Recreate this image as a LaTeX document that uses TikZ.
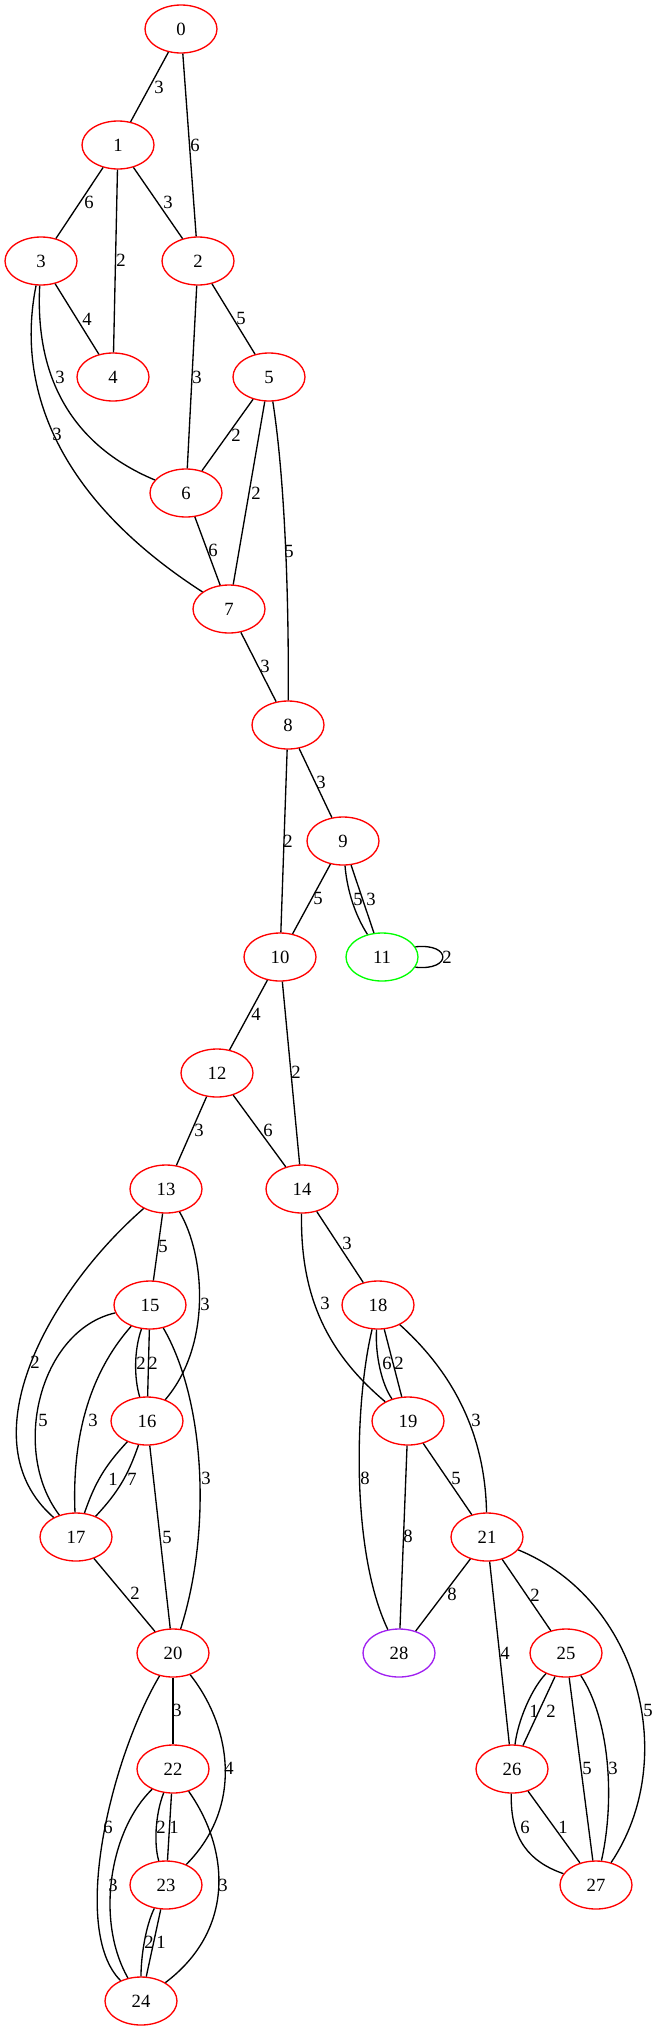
\documentclass[tikz,border=0pt]{standalone}
\usepackage{fontspec}
\setmainfont{Liberation Serif}
\usetikzlibrary{shapes.geometric,positioning}
\tikzstyle{vertex} = [ellipse, draw=vred, line width=1pt, minimum width=54pt, minimum height=36pt, inner sep=0pt, font=\fontsize{14}{16}\selectfont]
\tikzstyle{link} = [draw=black, line width=1pt]
\tikzstyle{wt} = [inner sep=0pt, font=\fontsize{14}{16}\selectfont]
\definecolor{vred}{HTML}{FF0000}
\definecolor{vgreen}{HTML}{00FF00}
\definecolor{vpurple}{HTML}{A020F0}
\begin{document}
\begin{tikzpicture}[x=0.75pt, y=-0.75pt]
  \useasboundingbox (0,0) rectangle (660,2031);
  \node[vertex] (n0) at (181,29) {0};
  \node[vertex] (n1) at (118,145) {1};
  \node[vertex] (n2) at (198,261) {2};
  \node[vertex] (n3) at (41,261) {3};
  \node[vertex] (n4) at (113,377) {4};
  \node[vertex] (n5) at (269,377) {5};
  \node[vertex] (n6) at (186,493) {6};
  \node[vertex] (n7) at (229,609) {7};
  \node[vertex] (n8) at (288,725) {8};
  \node[vertex] (n9) at (343,841) {9};
  \node[vertex] (n10) at (280,957) {10};
  \node[vertex, draw=vgreen] (n11) at (382,957) {11};
  \node[vertex] (n12) at (217,1073) {12};
  \node[vertex] (n13) at (166,1189) {13};
  \node[vertex] (n14) at (302,1189) {14};
  \node[vertex] (n15) at (150,1305) {15};
  \node[vertex] (n16) at (147,1421) {16};
  \node[vertex] (n17) at (76,1537) {17};
  \node[vertex] (n18) at (378,1305) {18};
  \node[vertex] (n19) at (408,1421) {19};
  \node[vertex] (n20) at (173,1653) {20};
  \node[vertex] (n21) at (487,1537) {21};
  \node[vertex] (n22) at (173,1769) {22};
  \node[vertex] (n23) at (166,1885) {23};
  \node[vertex] (n24) at (141,2001) {24};
  \node[vertex] (n25) at (566,1653) {25};
  \node[vertex] (n26) at (512,1769) {26};
  \node[vertex] (n27) at (596,1885) {27};
  \node[vertex, draw=vpurple] (n28) at (399,1653) {28};

  \draw[link] (n0) -- (n1) node[wt] at (159,87) {3};
  \draw[link] (n0) -- (n2) node[wt] at (195,145) {6};
  \draw[link] (n1) -- (n3) node[wt] at (89,202) {6};
  \draw[link] (n1) -- (n4) node[wt] at (121,260) {2};
  \draw[link] (n1) -- (n2) node[wt] at (168,202) {3};
  \draw[link] (n3) -- (n4) node[wt] at (87,319) {4};
  \draw[link] (n3) .. controls (34,395) and (88,452) .. (n6) node[wt] at (60,377) {3};
  \draw[link] (n3) .. controls (15,390) and (60,500) .. (n7) node[wt] at (57,434) {3};
  \draw[link] (n2) -- (n6) node[wt] at (197,377) {3};
  \draw[link] (n2) -- (n5) node[wt] at (241,318) {5};
  \draw[link] (n5) -- (n6) node[wt] at (236,435) {2};
  \draw[link] (n5) -- (n7) node[wt] at (256,493) {2};
  \draw[link] (n5) .. controls (285,480) and (289,600) .. (n8) node[wt] at (289,551) {5};
  \draw[link] (n6) -- (n7) node[wt] at (213,550) {6};
  \draw[link] (n7) -- (n8) node[wt] at (265,666) {3};
  \draw[link] (n8) -- (n10) node[wt] at (288,841) {2};
  \draw[link] (n8) -- (n9) node[wt] at (321,782) {3};
  \draw[link] (n9) -- (n10) node[wt] at (318,898) {5};
  \draw[link] (n9) .. controls (347,890) and (355,915) .. (n11) node[wt] at (358,899) {5};
  \draw[link] (n9) -- (n11) node[wt] at (371,899) {3};
  \draw[link] (n11.17) .. controls (452,943) and (452,971) .. (n11.-17) node[wt] at (447,957) {2};
  \draw[link] (n10) -- (n12) node[wt] at (256,1014) {4};
  \draw[link] (n10) -- (n14) node[wt] at (296,1072) {2};
  \draw[link] (n12) -- (n13) node[wt] at (199,1130) {3};
  \draw[link] (n12) -- (n14) node[wt] at (268,1130) {6};
  \draw[link] (n13) -- (n15) node[wt] at (163,1246) {5};
  \draw[link] (n13) .. controls (205,1255) and (212,1345) .. (n16) node[wt] at (205,1304) {3};
  \draw[link] (n13) .. controls (50,1290) and (-35,1440) .. (n17) node[wt] at (35,1362) {2};
  \draw[link] (n15) .. controls (134,1350) and (134,1378) .. (n16) node[wt] at (141,1363) {2};
  \draw[link] (n15) -- (n16) node[wt] at (153,1363) {2};
  \draw[link] (n15) .. controls (40,1330) and (10,1450) .. (n17) node[wt] at (43,1420) {5};
  \draw[link] (n15) .. controls (88,1375) and (72,1440) .. (n17) node[wt] at (93,1420) {3};
  \draw[link] (n15) .. controls (205,1400) and (212,1530) .. (n20) node[wt] at (206,1478) {3};
  \draw[link] (n16) to[bend right=12] (n17) node[wt] at (113,1479) {1};
  \draw[link] (n16) to[bend left=12] (n17) node[wt] at (132,1479) {7};
  \draw[link] (n16) -- (n20) node[wt] at (167,1537) {5};
  \draw[link] (n17) -- (n20) node[wt] at (135,1593) {2};
  \draw[link] (n14) -- (n18) node[wt] at (347,1243) {3};
  \draw[link] (n14) .. controls (300,1300) and (330,1355) .. (n19) node[wt] at (325,1303) {3};
  \draw[link] (n18) .. controls (375,1355) and (382,1385) .. (n19) node[wt] at (387,1363) {6};
  \draw[link] (n18) -- (n19) node[wt] at (399,1363) {2};
  \draw[link] (n18) .. controls (355,1400) and (350,1550) .. (n28) node[wt] at (365,1478) {8};
  \draw[link] (n18) .. controls (450,1370) and (485,1430) .. (n21) node[wt] at (476,1420) {3};
  \draw[link] (n19) -- (n21) node[wt] at (456,1478) {5};
  \draw[link] (n19) -- (n28) node[wt] at (408,1536) {8};
  \draw[link] (n21) -- (n28) node[wt] at (452,1594) {8};
  \draw[link] (n21) -- (n26) node[wt] at (505,1653) {4};
  \draw[link] (n21) -- (n25) node[wt] at (535,1595) {2};
  \draw[link] (n21) .. controls (640,1600) and (680,1760) .. (n27) node[wt] at (648,1710) {5};
  \draw[link] (n25) .. controls (532,1688) and (518,1720) .. (n26) node[wt] at (534,1711) {1};
  \draw[link] (n25) -- (n26) node[wt] at (551,1711) {2};
  \draw[link] (n25) -- (n27) node[wt] at (587,1768) {5};
  \draw[link] (n25) .. controls (610,1720) and (615,1800) .. (n27) node[wt] at (613,1768) {3};
  \draw[link] (n26) .. controls (510,1840) and (530,1862) .. (n27) node[wt] at (525,1827) {6};
  \draw[link] (n26) -- (n27) node[wt] at (563,1827) {1};
  \draw[link] (n20) -- (n22) node[wt] at (177,1710) {3};
  \draw[link] (n20) .. controls (230,1725) and (245,1805) .. (n23) node[wt] at (229,1768) {4};
  \draw[link] (n20) .. controls (110,1760) and (70,1930) .. (n24) node[wt] at (108,1827) {6};
  \draw[link] (n22) .. controls (155,1815) and (154,1845) .. (n23) node[wt] at (161,1827) {2};
  \draw[link] (n22) -- (n23) node[wt] at (174,1827) {1};
  \draw[link] (n22) .. controls (110,1830) and (95,1920) .. (n24) node[wt] at (113,1885) {3};
  \draw[link] (n22) .. controls (230,1850) and (235,1930) .. (n24) node[wt] at (223,1885) {3};
  \draw[link] (n23) .. controls (146,1925) and (141,1955) .. (n24) node[wt] at (149,1942) {2};
  \draw[link] (n23) -- (n24) node[wt] at (161,1942) {1};
\end{tikzpicture}
\end{document}
